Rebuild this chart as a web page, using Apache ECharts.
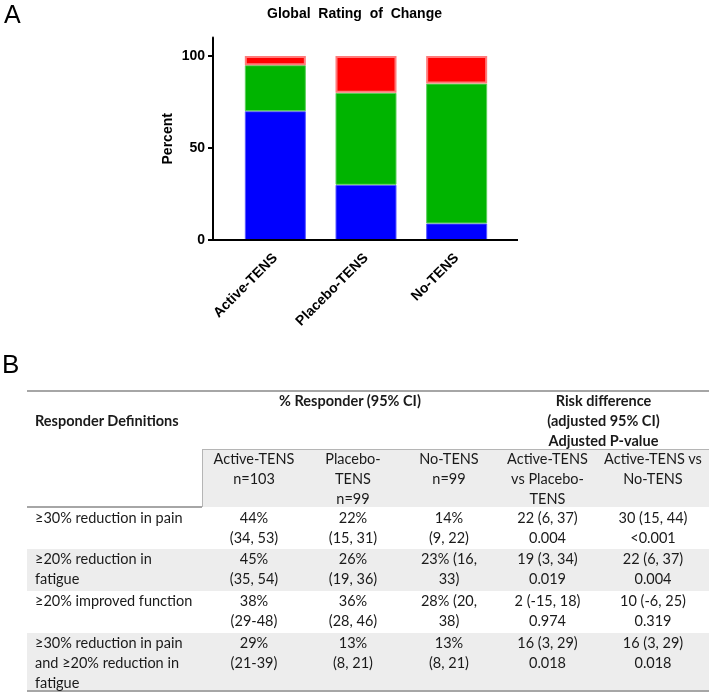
<!DOCTYPE html>
<html>
<head>
<meta charset="utf-8">
<script src="https://cdn.jsdelivr.net/npm/echarts@6/dist/echarts.min.js"></script>
<style>
  html, body { margin: 0; padding: 0; background: #fff; }
  #page { position: relative; width: 709px; height: 694px; overflow: hidden; }
  #chart { position: absolute; left: 0; top: 0; width: 709px; height: 694px; }
  #tbl { position: absolute; left: 0; top: 0; width: 709px; height: 694px;
         font-family: Lato, 'Noto Sans', sans-serif; font-size: 14.5px; color: #1a1a1a; }
  .band { position: absolute; }
  .cell { position: absolute; line-height: 20px; white-space: pre; text-align: center; }
  .bold { font-weight: bold; }
</style>
</head>
<body>
<div id="page">
  <div id="chart"></div>
  <div id="tbl"></div>
</div>
<script>
// panel A data
const groups = ['Active-TENS', 'Placebo-TENS', 'No-TENS'];
const improved = [70, 30, 9];
const noChange = [25, 50, 76];
const worse = [5, 20, 15];
const yTicks = [0, 50, 100];

// panel B data
const colHeads = ['Active-TENS\nn=103', 'Placebo-\nTENS\nn=99', 'No-TENS\nn=99',
                  'Active-TENS\nvs Placebo-\nTENS', 'Active-TENS vs\nNo-TENS'];
const definitions = ['≥30% reduction in pain', '≥20% reduction in\nfatigue',
                     '≥20% improved function', '≥30% reduction in pain\nand ≥20% reduction in\nfatigue'];
const activeResp = ['44%\n(34, 53)', '45%\n(35, 54)', '38%\n(29-48)', '29%\n(21-39)'];
const placeboResp = ['22%\n(15, 31)', '26%\n(19, 36)', '36%\n(28, 46)', '13%\n(8, 21)'];
const noTensResp = ['14%\n(9, 22)', '23% (16,\n33)', '28% (20,\n38)', '13%\n(8, 21)'];
const diffVsPlacebo = ['22 (6, 37)', '19 (3, 34)', '2 (-15, 18)', '16 (3, 29)'];
const pVsPlacebo = ['0.004', '0.019', '0.974', '0.018'];
const diffVsNoTens = ['30 (15, 44)', '22 (6, 37)', '10 (-6, 25)', '16 (3, 29)'];
const pVsNoTens = ['<0.001', '0.004', '0.319', '0.018'];

const axisFont = { fontFamily: 'Liberation Sans', fontSize: 14, fontWeight: 'bold', color: '#000' };

const chart = echarts.init(document.getElementById('chart'));
chart.setOption({
  animation: false,
  title: {
    text: 'Global  Rating  of  Change',
    left: 'center',
    top: 2,
    textStyle: axisFont
  },
  grid: { left: 230, top: 37.6, width: 272, height: 202.4 },
  xAxis: {
    type: 'category',
    data: groups,
    axisLine: { show: false },
    axisTick: { alignWithLabel: true, length: 6, lineStyle: { color: '#000', width: 2 } },
    axisLabel: Object.assign({ rotate: 45, margin: 16, interval: 0 }, axisFont)
  },
  yAxis: {
    type: 'value',
    min: 0,
    max: 110,
    offset: 17,
    name: 'Percent',
    nameLocation: 'middle',
    nameGap: 38,
    nameTextStyle: axisFont,
    splitLine: { show: false },
    axisLine: { show: true, lineStyle: { color: '#000', width: 2 } },
    axisTick: { show: true, length: 5, customValues: yTicks, lineStyle: { color: '#000', width: 2 } },
    axisLabel: Object.assign({ customValues: yTicks, margin: 8 }, axisFont)
  },
  series: [
    { name: 'Improved', type: 'bar', stack: 'grc', barWidth: 61, data: improved,
      itemStyle: { color: '#0000ff', borderColor: '#5a5aff', borderWidth: 1 } },
    { name: 'No change', type: 'bar', stack: 'grc', barWidth: 61, data: noChange,
      itemStyle: { color: '#00b400', borderColor: '#5ccf5c', borderWidth: 1 } },
    { name: 'Worse', type: 'bar', stack: 'grc', barWidth: 61, data: worse,
      itemStyle: { color: '#ff0000', borderColor: '#ff7a7a', borderWidth: 2 } }
  ],
  graphic: [
    { type: 'line', z: 10, shape: { x1: 212, y1: 240, x2: 518, y2: 240 },
      style: { stroke: '#000', lineWidth: 2 } },
    { type: 'text', left: 4, top: 4,
      style: { text: 'A', font: '25px "Liberation Sans"', fill: '#000' } },
    { type: 'text', left: 2, top: 353,
      style: { text: 'B', font: '26px "Liberation Sans"', fill: '#000' } }
  ]
});

// table for panel B
const tbl = document.getElementById('tbl');
const edges = [27, 202, 306, 400, 498, 597, 709];

function box(left, top, width, height, css) {
  const d = document.createElement('div');
  d.className = 'band';
  d.style.left = left + 'px';
  d.style.top = top + 'px';
  d.style.width = width + 'px';
  d.style.height = height + 'px';
  Object.assign(d.style, css || {});
  tbl.appendChild(d);
}

function text(str, left, width, top, bold, align) {
  const d = document.createElement('div');
  d.className = 'cell' + (bold ? ' bold' : '');
  d.style.left = left + 'px';
  d.style.width = width + 'px';
  d.style.top = top + 'px';
  if (align) { d.style.textAlign = align; }
  d.textContent = str;
  tbl.appendChild(d);
}

// rules and bands
box(27, 390, 682, 2, { background: '#a6a6a6' });
box(202, 449, 507, 58, { background: '#ededed', borderTop: '1px solid #b5b5b5', borderLeft: '1px solid #b5b5b5', boxSizing: 'border-box' });
box(27, 506, 175, 1.5, { background: '#a6a6a6' });
const rowTops = [507, 549, 591, 633, 691];
rowTops.slice(0, 4).forEach((t, i) => {
  if (i % 2 === 1) { box(27, t, 682, rowTops[i + 1] - t, { background: '#ededed' }); }
});
box(27, 690, 682, 2, { background: '#a6a6a6' });

// headers
text('Responder Definitions', 35, 170, 411, true, 'left');
text('% Responder (95% CI)', edges[1], edges[4] - edges[1], 391, true);
text('Risk difference\n(adjusted 95% CI)\nAdjusted P-value', edges[4], edges[6] - edges[4], 391, true);
colHeads.forEach((h, j) => {
  text(h, edges[j + 1], edges[j + 2] - edges[j + 1], 449, false);
});

// body rows
definitions.forEach((def, i) => {
  const t = rowTops[i] + (i === 0 ? 1 : 0);
  const cells = [activeResp[i], placeboResp[i], noTensResp[i],
                 diffVsPlacebo[i] + '\n' + pVsPlacebo[i],
                 diffVsNoTens[i] + '\n' + pVsNoTens[i]];
  text(def, 35, 170, t, false, 'left');
  cells.forEach((c, j) => {
    text(c, edges[j + 1], edges[j + 2] - edges[j + 1], t, false);
  });
});
</script>
</body>
</html>
